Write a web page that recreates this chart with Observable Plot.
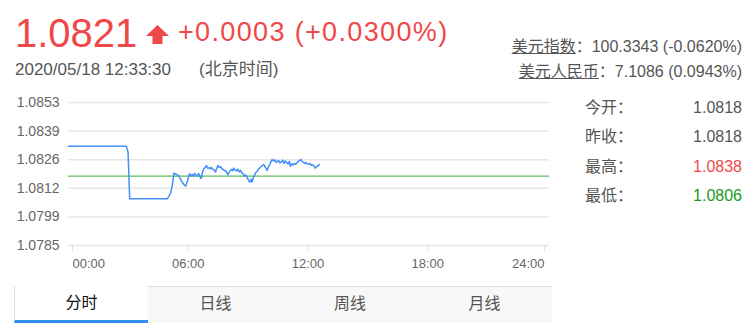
<!DOCTYPE html>
<html>
<head>
<meta charset="utf-8">
<script src="https://cdn.jsdelivr.net/npm/d3@7"></script>
<script src="https://cdn.jsdelivr.net/npm/@observablehq/plot@0.6"></script>
<style>
  html, body { margin: 0; padding: 0; background: #fff; }
  body { width: 756px; height: 329px; position: relative; overflow: hidden;
         font-family: Arial, "Liberation Sans", "Noto Sans CJK SC", sans-serif; }
  .abs { position: absolute; white-space: nowrap; }
  #price { left: 15px; top: 13px; font-size: 40px; line-height: 40px; color: #f04848; }
  #arrow { left: 146px; top: 25px; }
  #change { left: 178px; top: 19px; font-size: 27px; line-height: 26px; color: #f04848; letter-spacing: 1.35px; }
  #date { left: 15px; top: 61px; font-size: 17px; line-height: 17px; color: #555; }
  #tz { left: 199px; top: 61px; font-size: 17px; line-height: 17px; color: #555; }
  .ref { right: 14px; font-size: 16px; line-height: 16px; color: #555; text-align: right; }
  .ref u { text-decoration: underline; }
  #chart { left: 0; top: 90px; }
  .stat { font-size: 16px; line-height: 16px; color: #555; }
  .tabs { left: 14px; top: 286px; width: 538px; height: 37px; background: #f8f8f8; border-top: 1px solid #ddd; box-sizing: border-box; }
  .tab { position: absolute; top: 0; width: 134px; height: 36px; text-align: center; font-size: 16px; line-height: 34px; color: #555; box-sizing: border-box; }
  .tab.active { background: #fff; color: #111; border-left: 1px solid #ddd; border-bottom: 3px solid #2e8ff0; }
</style>
</head>
<body>
<div id="root"></div>
<script>
// ---- Data ----
const lastPrice = "1.0821";
const changeText = "+0.0003 (+0.0300%)";
const dateText = "2020/05/18 12:33:30";
const tzText = "(北京时间)";
const refNames = ["美元指数", "美元人民币"];
const refValues = ["100.3343 (-0.0620%)", "7.1086 (0.0943%)"];
const statLabels = ["今开：", "昨收：", "最高：", "最低："];
const statValues = ["1.0818", "1.0818", "1.0838", "1.0806"];
const tabNames = ["分时", "日线", "周线", "月线"];
const prevClose = 1.0818;
const yTicks = [1.0785, 1.07986, 1.08122, 1.08258, 1.08394, 1.0853];
const xTicks = [0, 360, 720, 1080, 1440];
const xTickLabels = ["00:00", "06:00", "12:00", "18:00", "24:00"];
// minutes since 00:00
const minutes = [0,174,179,184,297,302,307,312,317,322,327,332,337,342,347,352,356,359,362,365,368,372,376,379,383,387,391,394,397,400,403,407,411,415,418,422,425,429,433,437,440,442,445,449,453,457,461,465,469,472,476,479,483,487,491,494,497,501,505,509,513,517,521,525,529,533,537,541,545,549,552,555,558,562,567,572,577,582,587,592,597,601,605,609,612,616,620,624,628,632,636,640,644,648,652,656,660,664,667,671,675,679,683,687,691,695,698,702,706,710,714,718,722,726,730,734,738,742,746,750,754];
const prices = [1.08322,1.08322,1.08294,1.08072,1.08072,1.08085,1.08101,1.08135,1.08194,1.08190,1.08186,1.08180,1.08165,1.08151,1.08140,1.08132,1.08150,1.08162,1.08185,1.08191,1.08180,1.08188,1.08178,1.08193,1.08185,1.08180,1.08192,1.08186,1.08170,1.08172,1.08200,1.08215,1.08222,1.08230,1.08218,1.08220,1.08215,1.08222,1.08212,1.08211,1.08203,1.08199,1.08215,1.08230,1.08222,1.08225,1.08215,1.08212,1.08205,1.08207,1.08195,1.08186,1.08200,1.08207,1.08212,1.08205,1.08218,1.08210,1.08205,1.08212,1.08200,1.08208,1.08195,1.08192,1.08180,1.08185,1.08175,1.08160,1.08151,1.08165,1.08152,1.08170,1.08180,1.08195,1.08202,1.08215,1.08222,1.08230,1.08234,1.08222,1.08207,1.08225,1.08234,1.08250,1.08259,1.08252,1.08258,1.08245,1.08250,1.08254,1.08242,1.08248,1.08256,1.08240,1.08252,1.08244,1.08238,1.08250,1.08227,1.08238,1.08232,1.08240,1.08236,1.08244,1.08250,1.08255,1.08259,1.08250,1.08246,1.08240,1.08244,1.08238,1.08236,1.08240,1.08232,1.08234,1.08228,1.08218,1.08225,1.08230,1.08234];

const series = minutes.map((m, i) => ({t: m, v: prices[i]}));

// ---- Header ----
const root = document.getElementById("root");
function el(tag, cls, html, style) {
  const e = document.createElement(tag);
  if (cls) e.className = cls;
  if (html != null) e.innerHTML = html;
  if (style) Object.assign(e.style, style);
  root.appendChild(e);
  return e;
}
el("div", "abs", lastPrice).id = "price";
const arrow = el("div", "abs", '<svg width="23" height="19" viewBox="0 0 23 19"><path d="M11.5 0 L23 11 L16.5 11 L16.5 19 L6.5 19 L6.5 11 L0 11 Z" fill="#f04848"/></svg>');
arrow.id = "arrow";
el("div", "abs", changeText).id = "change";
el("div", "abs", dateText).id = "date";
el("div", "abs", tzText).id = "tz";
el("div", "abs ref", `<u>${refNames[0]}</u>：${refValues[0]}`, {top: "39px"});
el("div", "abs ref", `<u>${refNames[1]}</u>：${refValues[1]}`, {top: "64px"});

// stats
const statColors = ["#555", "#555", "#f04848", "#1a9a1a"];
statLabels.forEach((lab, i) => {
  const top = 99.5 + i * 29.6;
  el("div", "abs stat", lab, {left: "585px", top: top + "px"});
  el("div", "abs stat", statValues[i], {right: "14px", top: top + "px", color: statColors[i]});
});

// tabs
const tabs = el("div", "abs tabs", "");
tabNames.forEach((n, i) => {
  const t = document.createElement("div");
  t.className = "tab" + (i === 0 ? " active" : "");
  t.style.left = (i * 134.5) + "px";
  t.style.top = i === 0 ? "-1px" : "0px";
  t.style.height = i === 0 ? "37px" : "36px";
  t.textContent = n;
  tabs.appendChild(t);
});

// ---- Chart ----
const font = "Arial, 'Liberation Sans', sans-serif";
const fmtX = d => xTickLabels[xTicks.indexOf(d)];
const chart = Plot.plot({
  width: 560,
  height: 185,
  marginTop: 12,
  marginBottom: 30,
  marginLeft: 68,
  marginRight: 13,
  style: {fontSize: "13px", fontFamily: font, background: "transparent", color: "#666", overflow: "visible"},
  x: {domain: [0, 1440]},
  y: {domain: [1.0785, 1.0853]},
  marks: [
    Plot.ruleY(yTicks, {stroke: "#e6e6e6", strokeWidth: 1.5, insetRight: -2}),
    Plot.axisY({ticks: yTicks, tickSize: 0, tickPadding: 9, tickFormat: d => d.toFixed(4), fill: "#666", label: null, fontSize: 14}),
    Plot.axisX({ticks: xTicks.slice(0, 1), tickSize: 6, tickPadding: 7, stroke: "#ddd", fill: "#666", textAnchor: "start", dx: 4, tickFormat: fmtX, label: null}),
    Plot.axisX({ticks: xTicks.slice(1, -1), tickSize: 6, tickPadding: 7, stroke: "#ddd", fill: "#666", tickFormat: fmtX, label: null}),
    Plot.axisX({ticks: xTicks.slice(-1), tickSize: 6, tickPadding: 7, stroke: "#ddd", fill: "#666", textAnchor: "end", dx: -3, tickFormat: fmtX, label: null}),
    Plot.ruleY([prevClose], {stroke: "#5cbf5c", strokeWidth: 1.3, insetRight: -2}),
    Plot.line(series, {x: "t", y: "v", stroke: "#4390f7", strokeWidth: 1.5})
  ]
});
const wrap = el("div", "abs", null);
wrap.id = "chart";
wrap.appendChild(chart);
</script>
</body>
</html>
